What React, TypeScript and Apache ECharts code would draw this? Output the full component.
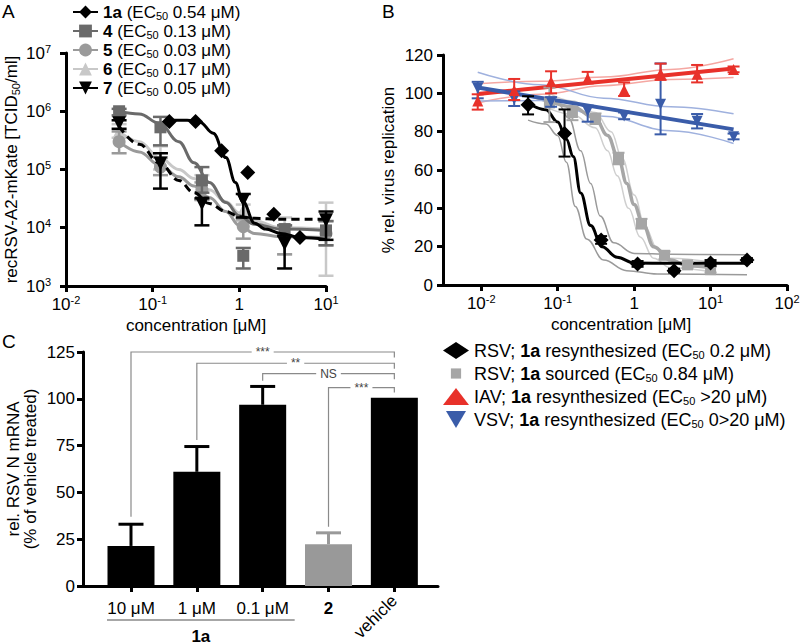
import React, { useEffect, useRef } from 'react';
import * as echarts from 'echarts';

const FONT = '"Liberation Sans", Arial, Helvetica, sans-serif';

// ---------------- Panel A ----------------
const concA = [0.041, 0.123, 0.37, 1.11, 3.33, 10];
const conc1a = [0.156, 0.3125, 0.625, 1.25, 2.5, 5];
const titer1a = [6.7e5, 6.7e5, 2.1e5, 8.9e4, 1.7e4, 6.8e3];
const titer4 = [1.0e6, 5.3e5, 6.5e4, 3.3e3, 9.5e3, 9.0e3];
const titer5 = [3.0e5, 1.1e5, 4.5e4, 1.05e4, 7.0e3, 8.0e3];
const titer6 = [4.5e5, 1.5e5, 5.0e4, 2.0e4, 9.0e3, 1.0e4];
const titer7 = [6.2e5, 1.27e5, 2.6e4, 3.0e4, 5.3e3, 1.35e4];

const err4Low = [8.5e5, 2.6e5, 4.0e4, 2.0e3, 7.0e3, 5.0e3];
const err4High = [1.1e6, 8.0e5, 1.1e5, 4.5e3, 1.1e4, 1.3e4];
const err5Low = [1.9e5, 8.0e4, 3.0e4, 6.5e3, 3.5e3, 5.0e3];
const err5High = [4.5e5, 1.6e5, 6.0e4, 1.4e4, 1.1e4, 1.3e4];
const err6Low = [3.5e5, 1.0e5, 3.0e4, 1.3e4, 3.5e3, 1.5e3];
const err6High = [6.0e5, 2.5e5, 8.0e4, 2.5e4, 1.5e4, 2.7e4];
const err7Low = [5.0e5, 4.7e4, 1.1e4, 1.5e4, 2.0e3, 6.2e3];
const err7High = [7.0e5, 1.9e5, 3.2e4, 3.8e4, 7.3e3, 1.9e4];

const fit1aX = [0.156, 0.25, 0.35, 0.5, 0.7, 0.9, 1.1, 1.5, 2, 3, 5, 10];
const fit1aY = [7.0e5, 7.0e5, 6.5e5, 4.2e5, 1.6e5, 6.0e4, 2.8e4, 1.2e4, 9.5e3, 8.0e3, 6.8e3, 6.3e3];
const fitAX = [0.041, 0.07, 0.12, 0.2, 0.3, 0.45, 0.7, 1, 1.5, 3, 10];
const fit4Y = [1.0e6, 9.0e5, 6.2e5, 3.0e5, 1.3e5, 6.0e4, 2.7e4, 1.6e4, 1.15e4, 9.5e3, 9.0e3];
const fit5Y = [3.0e5, 2.0e5, 1.2e5, 7.5e4, 5.2e4, 3.3e4, 1.9e4, 1.1e4, 8.0e3, 7.0e3, 6.8e3];
const fit6Y = [4.5e5, 3.0e5, 1.6e5, 1.0e5, 7.0e4, 4.5e4, 2.8e4, 1.8e4, 1.3e4, 1.0e4, 9.5e3];
const fit7Y = [5.5e5, 2.7e5, 1.3e5, 6.5e4, 4.0e4, 2.6e4, 1.9e4, 1.55e4, 1.45e4, 1.4e4, 1.4e4];

const legendANames = ['1a', '4', '5', '6', '7'];
const legendAEC50 = ['0.54', '0.13', '0.03', '0.17', '0.05'];

// ---------------- Panel B ----------------
const concRsvRe = [0.041, 0.123, 0.37, 1.11, 3.33, 10, 30];
const repRsvRe = [94, 79, 23.5, 11, 7.5, 11.5, 13];
const errRsvReLow = [89, 67, 21.5, 9.5, 6.5, 10, 12];
const errRsvReHigh = [98.5, 91.6, 25.5, 12.5, 8.5, 13, 14];

const concRsvSrc = [0.078, 0.156, 0.3125, 0.625, 1.25, 2.5, 5, 10];
const repRsvSrc = [95, 90, 86.5, 66, 32, 15.5, 10.5, 8];
const errRsvSrcLow = [85, 86, 84, 63, 29.5, 13.5, 9, 6.5];
const errRsvSrcHigh = [103, 93, 89.5, 69, 34.5, 17.5, 12, 9.5];

const concFlu = [0.009, 0.027, 0.082, 0.247, 0.74, 2.22, 6.67, 20];
const repIav = [96, 101.5, 106, 107.8, 101.7, 110.4, 110, 112.5];
const errIavLow = [91.5, 96.5, 100, 105.2, 98.6, 107, 105.7, 111];
const errIavHigh = [99.5, 107.5, 111.5, 111.2, 105.7, 115.5, 114.8, 114];
const repVsv = [102.6, 97, 95.5, 90.8, 88.2, 94.3, 85.5, 77.4];
const errVsvLow = [97.4, 93.4, 93, 85.2, 86.5, 78.6, 81.7, 76];
const errVsvHigh = [106, 101, 98, 93.6, 90, 115.6, 89.2, 79];

const fitRsvReX = [0.041, 0.07, 0.1, 0.13, 0.16, 0.2, 0.27, 0.38, 0.6, 1, 3, 30];
const fitRsvReY = [95, 91.5, 85, 76, 67, 48, 31, 20, 14.5, 11.5, 11.3, 11.3];
const bandRsvReLoX = [0.041, 0.07, 0.1, 0.13, 0.17, 0.24, 0.4, 0.8, 2, 30];
const bandRsvReLoY = [86, 84, 78, 64, 41, 24, 13, 7.5, 5.7, 5.3];
const bandRsvReHiX = [0.041, 0.1, 0.14, 0.2, 0.27, 0.36, 0.54, 1, 3, 30];
const bandRsvReHiY = [99, 95, 87, 70, 53, 36, 22, 16.5, 16, 15.8];

const fitRsvSrcX = [0.078, 0.156, 0.31, 0.45, 0.625, 0.8, 1.0, 1.3, 1.8, 3, 5, 10];
const fitRsvSrcY = [96, 93, 87, 78, 66, 53, 42, 32, 20, 13, 10, 9];
const bandRsvSrcHiX = [0.078, 0.156, 0.31, 0.5, 0.7, 1, 1.4, 2, 3, 10];
const bandRsvSrcHiY = [100, 96, 90, 80, 66, 47, 30, 19, 14, 12];
const bandRsvSrcLoX = [0.078, 0.156, 0.31, 0.45, 0.6, 0.85, 1.2, 1.8, 3, 10];
const bandRsvSrcLoY = [92, 89, 82, 70, 57, 40, 25, 14, 9, 7];

const fitFluX = [0.009, 20];
const fitIavY = [99.6, 113];
const fitVsvY = [103, 81.2];
const bandFluX = [0.009, 0.06, 0.4, 3, 20];
const bandIavHiY = [105, 106.3, 108.5, 112.5, 118];
const bandIavLoY = [95, 99.5, 104, 107.2, 108.2];
const bandVsvHiY = [111, 104.5, 97.5, 93, 89.3];
const bandVsvLoY = [96, 96.2, 88, 80.5, 73.8];

const legendBVirus = ['RSV', 'RSV', 'IAV', 'VSV'];
const legendBSource = ['resynthesized', 'sourced', 'resynthesized', 'resynthesized'];
const legendBEC50 = ['0.2 μM', '0.84 μM', '>20 μM', '0>20 μM'];

// ---------------- Panel C ----------------
const catC = ['10 μM', '1 μM', '0.1 μM', '2', 'vehicle'];
const mrnaC = [21.4, 61, 96.8, 22.3, 100.5];
const mrnaErrC = [33, 74.5, 106.6, 28.4, 100.5];
const sigFrom = [0, 1, 2, 3];
const sigTo = [4, 4, 4, 4];
const sigStart = [37, 78, 109.6, 31.6];
const sigLevel = [125, 119, 113.4, 106];
const sigEnd = [122, 116, 110.5, 103.4];
const sigLabel = ['***', '**', 'NS', '***'];
const groupFrom = 0;
const groupTo = 2;
const groupLabel = '1a';

// ------------------------------------------------
const INV_TRI = 'path://M0,0 L20,0 L10,17 Z';
const SMALL_SQUARE = 'path://M0,0 M20,20 M4,4 L16,4 L16,16 L4,16 Z';

const axisBase = (extra: any) => ({
  axisLine: { show: true, onZero: false, lineStyle: { color: '#000', width: 3 } },
  axisTick: { show: true, inside: false, length: 6, lineStyle: { color: '#000', width: 3 } },
  splitLine: { show: false },
  nameTextStyle: { color: '#000', fontSize: 17, fontFamily: FONT },
  ...extra,
});

const supRich = {
  sup: { fontSize: 11, fontFamily: FONT, color: '#000', verticalAlign: 'top', lineHeight: 11 },
};
const subRich = {
  sub: { fontSize: 11, fontFamily: FONT, color: '#000', verticalAlign: 'bottom', lineHeight: 9 },
};

const pow10 = (v: number, plainOne: boolean) => {
  const e = Math.round(Math.log10(v));
  if (e === 0 && plainOne) return '1';
  return '10{sup|' + e + '}';
};

const errRender = (color: string, width: number, capHalf: number, topOnly = false) =>
  (params: any, api: any) => {
    const x = api.value(0);
    const lo = api.value(1);
    const hi = api.value(2);
    const p1 = api.coord([x, lo]);
    const p2 = api.coord([x, hi]);
    const st = { stroke: color, lineWidth: width };
    const children: any[] = [
      { type: 'line', shape: { x1: p1[0], y1: p1[1], x2: p2[0], y2: p2[1] }, style: st },
      { type: 'line', shape: { x1: p2[0] - capHalf, y1: p2[1], x2: p2[0] + capHalf, y2: p2[1] }, style: st },
    ];
    if (!topOnly) {
      children.push({ type: 'line', shape: { x1: p1[0] - capHalf, y1: p1[1], x2: p1[0] + capHalf, y2: p1[1] }, style: st });
    }
    return { type: 'group', children };
  };

const zip = (xs: number[], ys: number[], tx = (v: number) => v) => xs.map((x, i) => [tx(x), ys[i]]);
const zip3 = (xs: number[], lo: number[], hi: number[], tx = (v: number) => v) =>
  xs.map((x, i) => [tx(x), lo[i], hi[i]]);
const lg = (v: number) => Math.log10(v);

function buildOption() {
  const series: any[] = [];

  // ---------- Panel A ----------
  const compA = [
    { name: '6', x: concA, y: titer6, lo: err6Low, hi: err6High, fx: fitAX, fy: fit6Y, color: '#c8c8c8', symbol: 'triangle', size: 13, rot: 0, dash: 'solid', z: 2 },
    { name: '5', x: concA, y: titer5, lo: err5Low, hi: err5High, fx: fitAX, fy: fit5Y, color: '#9a9a9a', symbol: 'circle', size: 13, rot: 0, dash: 'solid', z: 3 },
    { name: '4', x: concA, y: titer4, lo: err4Low, hi: err4High, fx: fitAX, fy: fit4Y, color: '#6a6a6a', symbol: 'rect', size: 12, rot: 0, dash: 'solid', z: 4 },
    { name: '7', x: concA, y: titer7, lo: err7Low, hi: err7High, fx: fitAX, fy: fit7Y, color: '#000', symbol: 'triangle', size: 14, rot: 180, dash: [8, 5], z: 5 },
    { name: '1a', x: conc1a, y: titer1a, lo: null, hi: null, fx: fit1aX, fy: fit1aY, color: '#000', symbol: 'diamond', size: 15, rot: 0, dash: 'solid', z: 6 },
  ];
  compA.forEach((c) => {
    series.push({
      type: 'line', name: c.name, xAxisIndex: 0, yAxisIndex: 0,
      data: zip(c.fx, c.fy), smooth: 0.4, smoothMonotone: 'x',
      symbol: c.symbol, symbolRotate: c.rot, showSymbol: false,
      lineStyle: { color: c.color, width: 3, type: c.dash },
      itemStyle: { color: c.color }, z: c.z, silent: true,
    });
    if (c.lo && c.hi) {
      series.push({
        type: 'custom', name: c.name + ' err', xAxisIndex: 0, yAxisIndex: 0,
        data: zip3(c.x, c.lo, c.hi), renderItem: errRender(c.color, 2.5, 7.5), z: c.z, silent: true,
      });
    }
    series.push({
      type: 'scatter', name: c.name + ' pts', xAxisIndex: 0, yAxisIndex: 0,
      data: zip(c.x, c.y), symbol: c.symbol, symbolSize: c.size, symbolRotate: c.rot,
      itemStyle: { color: c.color, opacity: 1 }, z: c.z + 0.5, silent: true,
    });
  });

  // ---------- Panel B ----------
  const bName = (i: number) => `${legendBVirus[i]}; 1a ${legendBSource[i]} (EC50 ${legendBEC50[i]})`;
  const bandLine = (name: string, xs: number[], ys: number[], color: string, z: number) => ({
    type: 'line', name, xAxisIndex: 1, yAxisIndex: 1, data: zip(xs, ys, lg), smooth: 0.4, smoothMonotone: 'x',
    showSymbol: false, symbol: 'none', lineStyle: { color, width: 1.5 }, z, silent: true,
  });
  series.push(bandLine('rsvSrc band hi', bandRsvSrcHiX, bandRsvSrcHiY, '#cfcfcf', 2));
  series.push(bandLine('rsvSrc band lo', bandRsvSrcLoX, bandRsvSrcLoY, '#cfcfcf', 2));
  series.push(bandLine('rsvSrc fit', fitRsvSrcX, fitRsvSrcY, '#a6a6a6', 3));
  series[series.length - 1].lineStyle.width = 3.5;
  series.push(bandLine('rsvRe band hi', bandRsvReHiX, bandRsvReHiY, '#9a9a9a', 2));
  series.push(bandLine('rsvRe band lo', bandRsvReLoX, bandRsvReLoY, '#9a9a9a', 2));
  series.push(bandLine('rsvRe fit', fitRsvReX, fitRsvReY, '#000', 4));
  series[series.length - 1].lineStyle.width = 3;
  series.push(bandLine('iav band hi', bandFluX, bandIavHiY, '#f5a7a2', 2));
  series.push(bandLine('iav band lo', bandFluX, bandIavLoY, '#f5a7a2', 2));
  series.push(bandLine('vsv band hi', bandFluX, bandVsvHiY, '#9fb1de', 2));
  series.push(bandLine('vsv band lo', bandFluX, bandVsvLoY, '#9fb1de', 2));
  series.push({ ...bandLine('iav fit', fitFluX, fitIavY, '#e8312a', 5), smooth: false, lineStyle: { color: '#e8312a', width: 4 } });
  series.push({ ...bandLine('vsv fit', fitFluX, fitVsvY, '#3a5ca9', 5), smooth: false, lineStyle: { color: '#3a5ca9', width: 4 } });

  const compB = [
    { i: 1, x: concRsvSrc, y: repRsvSrc, lo: errRsvSrcLow, hi: errRsvSrcHigh, color: '#a6a6a6', symbol: 'rect', size: 11, rot: 0, z: 6 },
    { i: 0, x: concRsvRe, y: repRsvRe, lo: errRsvReLow, hi: errRsvReHigh, color: '#000', symbol: 'diamond', size: 15, rot: 0, z: 7 },
    { i: 3, x: concFlu, y: repVsv, lo: errVsvLow, hi: errVsvHigh, color: '#3a5ca9', symbol: 'triangle', size: 11, rot: 180, z: 8 },
    { i: 2, x: concFlu, y: repIav, lo: errIavLow, hi: errIavHigh, color: '#e8312a', symbol: 'triangle', size: 11, rot: 0, z: 9 },
  ];
  compB.forEach((c) => {
    series.push({
      type: 'custom', name: bName(c.i) + ' err', xAxisIndex: 1, yAxisIndex: 1,
      data: zip3(c.x, c.lo, c.hi, lg), renderItem: errRender(c.color, 2, 6), z: c.z, silent: true,
    });
    series.push({
      type: 'scatter', name: bName(c.i), xAxisIndex: 1, yAxisIndex: 1,
      data: zip(c.x, c.y, lg), symbol: c.symbol, symbolSize: c.size, symbolRotate: c.rot,
      itemStyle: { color: c.color, opacity: 1 }, z: c.z + 0.5, silent: true,
    });
  });

  // ---------- Panel C ----------
  series.push({
    type: 'bar', name: 'mRNA', xAxisIndex: 2, yAxisIndex: 2, barWidth: 47,
    data: mrnaC.map((v, i) => ({ value: [i, v], itemStyle: { color: i === 3 ? '#999999' : '#000' } })),
    z: 2, silent: true,
  });
  series.push({
    type: 'custom', name: 'mRNA err', xAxisIndex: 2, yAxisIndex: 2,
    data: mrnaC.map((v, i) => [i, v, mrnaErrC[i]]).filter((d) => d[2] > d[1]),
    renderItem: (params: any, api: any) => {
      const col = api.value(0) === 3 ? '#999999' : '#000';
      return errRender(col, 3, 12.5, true)(params, api);
    },
    z: 3, silent: true,
  });
  series.push({
    type: 'custom', name: 'significance', xAxisIndex: 2, yAxisIndex: 2, clip: false,
    data: sigFrom.map((f, i) => [f, sigTo[i], sigStart[i], sigLevel[i], sigEnd[i]]),
    renderItem: (params: any, api: any) => {
      const a = api.coord([api.value(0), api.value(2)]);
      const b = api.coord([api.value(0), api.value(3)]);
      const c = api.coord([api.value(1), api.value(3)]);
      const d = api.coord([api.value(1), api.value(4)]);
      const st = { stroke: '#8a8a8a', lineWidth: 1.2 };
      return {
        type: 'group',
        children: [
          { type: 'polyline', shape: { points: [a, b, c, d] }, style: { ...st, fill: 'none' } },
          {
            type: 'text', x: (b[0] + c[0]) / 2, y: b[1],
            style: {
              text: sigLabel[params.dataIndex], fill: '#444', fontSize: 12, fontFamily: FONT,
              align: 'center', verticalAlign: 'middle', backgroundColor: '#fff', padding: [0, 4],
            },
          },
        ],
      };
    },
    z: 4, silent: true,
  });
  series.push({
    type: 'custom', name: 'group', xAxisIndex: 2, yAxisIndex: 2, clip: false,
    data: [[groupFrom, groupTo]],
    renderItem: (params: any, api: any) => {
      const a = api.coord([api.value(0), 0]);
      const b = api.coord([api.value(1), 0]);
      return {
        type: 'group',
        children: [
          { type: 'line', shape: { x1: a[0] - 24, y1: a[1] + 34, x2: b[0] + 32, y2: b[1] + 34 }, style: { stroke: '#8a8a8a', lineWidth: 1.5 } },
          {
            type: 'text', x: (a[0] - 24 + b[0] + 32) / 2, y: a[1] + 50,
            style: { text: groupLabel, fill: '#000', fontSize: 17, fontWeight: 'bold', fontFamily: FONT, align: 'center', verticalAlign: 'middle' },
          },
        ],
      };
    },
    z: 4, silent: true,
  });

  const labelBase = { color: '#000', fontSize: 17, fontFamily: FONT, lineHeight: 20 };
  const iconsB = ['diamond', SMALL_SQUARE, 'triangle', INV_TRI];

  return {
    animation: false,
    backgroundColor: '#fff',
    textStyle: { fontFamily: FONT },
    grid: [
      { left: 66, top: 53, width: 260, height: 233, outerBoundsMode: 'none' },
      { left: 443, top: 55, width: 344, height: 230, outerBoundsMode: 'none' },
      { left: 83, top: 352, width: 355, height: 234, outerBoundsMode: 'none' },
    ],
    xAxis: [
      axisBase({
        type: 'log', logBase: 10, min: 0.01, max: 10, gridIndex: 0,
        name: 'concentration [μM]', nameLocation: 'middle', nameGap: 31,
        axisLabel: { ...labelBase, margin: 8, formatter: (v: number) => pow10(v, true), rich: supRich },
      }),
      axisBase({
        type: 'value', min: -2.5, max: 2, gridIndex: 1,
        name: 'concentration [μM]', nameLocation: 'middle', nameGap: 31,
        nameTextStyle: { color: '#000', fontSize: 17, fontFamily: FONT, padding: [0, 0, 0, 12] },
        axisTick: { show: true, length: 6, lineStyle: { color: '#000', width: 3 }, customValues: [-2, -1, 0, 1, 2] },
        axisLabel: {
          ...labelBase, margin: 8, customValues: [-2, -1, 0, 1, 2],
          formatter: (v: number) => pow10(Math.pow(10, v), true), rich: supRich,
        },
      }),
      axisBase({
        type: 'value', min: -0.729, max: 4.663, gridIndex: 2,
        axisTick: { show: true, length: 6, lineStyle: { color: '#000', width: 3 }, customValues: [0, 1, 2, 3, 4] },
        axisLabel: {
          ...labelBase, margin: 12, customValues: [0, 1, 2, 3],
          formatter: (v: number) => (Math.round(v) === 3 ? '{b|' + catC[3] + '}' : catC[Math.round(v)]),
          rich: { b: { fontWeight: 'bold', fontSize: 17, fontFamily: FONT, color: '#000', lineHeight: 20 } },
        },
      }),
      {
        type: 'value', min: -0.729, max: 4.663, gridIndex: 2, position: 'bottom',
        axisLine: { show: false }, axisTick: { show: false }, splitLine: { show: false },
        axisLabel: {
          color: '#000', fontSize: 17, fontFamily: FONT, margin: 12, rotate: 45, customValues: [4],
          formatter: (v: number) => catC[Math.round(v)],
        },
      },
    ],
    yAxis: [
      axisBase({
        type: 'log', logBase: 10, min: 1e3, max: 1e7, gridIndex: 0,
        name: 'recRSV-A2-mKate [TCID{sub|50}/ml]', nameLocation: 'middle', nameRotate: 90, nameGap: 45,
        nameTextStyle: { color: '#000', fontSize: 17, fontFamily: FONT, lineHeight: 20, rich: subRich },
        axisLabel: { ...labelBase, margin: 15, formatter: (v: number) => pow10(v, false), rich: supRich },
      }),
      axisBase({
        type: 'value', min: 0, max: 120, interval: 20, gridIndex: 1,
        name: '% rel. virus replication', nameLocation: 'middle', nameRotate: 90, nameGap: 46,
        axisLabel: { ...labelBase, margin: 10 },
      }),
      axisBase({
        type: 'value', min: 0, max: 125, interval: 25, gridIndex: 2,
        name: 'rel. RSV N mRNA\n(% of vehicle treated)', nameLocation: 'middle', nameRotate: 90, nameGap: 44,
        nameTextStyle: { color: '#000', fontSize: 17, fontFamily: FONT, lineHeight: 17 },
        axisLabel: { ...labelBase, margin: 8 },
      }),
    ],
    legend: [
      {
        orient: 'vertical', left: 72, top: 3, padding: 0, itemWidth: 25, itemHeight: 16, itemGap: 1,
        selectedMode: false,
        data: legendANames.map((n) => (n === '7' ? { name: n, lineStyle: { type: 'solid' } } : { name: n })),
        formatter: (name: string) => `{b|${name}} (EC{sub|50} ${legendAEC50[legendANames.indexOf(name)]} μM)`,
        textStyle: {
          color: '#000', fontSize: 17, fontFamily: FONT, lineHeight: 18,
          rich: {
            b: { fontWeight: 'bold', fontSize: 17, fontFamily: FONT, color: '#000', lineHeight: 18 },
            ...subRich,
          },
        },
      },
      {
        orient: 'vertical', left: 443, top: 341, padding: 0, itemWidth: 26, itemHeight: 17, itemGap: 4,
        selectedMode: false,
        data: [0, 1, 2, 3].map((i) => ({ name: bName(i), icon: iconsB[i] })),
        formatter: (name: string) => {
          const i = [0, 1, 2, 3].find((k) => bName(k) === name) ?? 0;
          return `${legendBVirus[i]}; {b|1a} ${legendBSource[i]} (EC{sub|50} ${legendBEC50[i]})`;
        },
        textStyle: {
          color: '#000', fontSize: 18, fontFamily: FONT, lineHeight: 19,
          rich: {
            b: { fontWeight: 'bold', fontSize: 18, fontFamily: FONT, color: '#000', lineHeight: 19 },
            sub: { fontSize: 11, fontFamily: FONT, color: '#000', verticalAlign: 'bottom', lineHeight: 9 },
          },
        },
      },
    ],
    graphic: [
      { type: 'text', left: 2, top: 2, style: { text: 'A', fontSize: 19, fontFamily: FONT, fill: '#000' } },
      { type: 'text', left: 382, top: 2, style: { text: 'B', fontSize: 19, fontFamily: FONT, fill: '#000' } },
      { type: 'text', left: 2, top: 332, style: { text: 'C', fontSize: 19, fontFamily: FONT, fill: '#000' } },
    ],
    series,
  };
}

export default function App() {
  const ref = useRef<HTMLDivElement>(null);
  useEffect(() => {
    if (!ref.current) return;
    const chart = echarts.init(ref.current, null, { renderer: 'svg' });
    chart.setOption(buildOption() as any);
    return () => chart.dispose();
  }, []);
  return (
    <div
      ref={ref}
      style={{ position: 'absolute', left: 0, top: 0, width: 800, height: 644, background: '#fff' }}
    />
  );
}
